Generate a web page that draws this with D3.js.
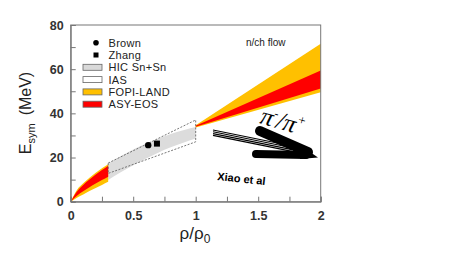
<!DOCTYPE html>
<html>

<head>
  <meta charset="utf-8">
  <title>Esym vs density</title>
  <script type="text/javascript" src="https://cdn.jsdelivr.net/npm/d3@7"></script>
  <style type="text/css">
    body { margin: 0; background: #fff; }
    text { font-family: "Liberation Sans", Arial, sans-serif; }
  </style>
</head>

<body>
  <script type="text/javascript">

    // Low density bands (0 - 0.3)
    const lowRho = [0, 0.05, 0.1, 0.15, 0.2, 0.25, 0.3];
    const fopiLowHi = [0, 5.3, 8.3, 10.8, 13.1, 15.1, 17.0];
    const fopiLowLo = [0, 1.8, 3.3, 4.8, 6.2, 7.6, 9.0];
    const asyLowHi = [0, 4.6, 7.6, 10.0, 12.3, 14.3, 16.3];
    const asyLowLo = [0, 2.7, 4.7, 6.5, 8.2, 9.8, 11.3];

    // High density bands (1 - 2)
    const highRho = [1, 2];
    const fopiHighHi = [34.6, 71.5];
    const fopiHighLo = [33.6, 49.6];
    const asyHighHi = [34.4, 59.4];
    const asyHighLo = [33.9, 51.2];

    // HIC Sn+Sn band
    const hicRho = [0.3, 0.4, 0.5, 0.6, 0.7, 0.8, 0.9, 1.0];
    const hicHi = [17.4, 20.6, 23.6, 26.2, 28.5, 30.6, 32.3, 33.8];
    const hicLo = [9.8, 13.3, 16.5, 19.5, 22.2, 24.6, 26.7, 28.6];

    // IAS box corners
    const iasRho = [0.3, 1.0, 1.0, 0.3];
    const iasE = [17.5, 37.0, 27.1, 12.8];

    // points
    const brown = { rho: 0.62, e: 25.6 };
    const zhang = { rho: 0.69, e: 26.3 };

    const xTicks = [0, 0.25, 0.5, 0.75, 1, 1.25, 1.5, 1.75, 2];
    const yTicks = [0, 10, 20, 30, 40, 50, 60, 70, 80];

    const legendItems = [
      { name: "Brown", kind: "circle" },
      { name: "Zhang", kind: "square" },
      { name: "HIC Sn+Sn", kind: "rect", fill: "#d9d9d9" },
      { name: "IAS", kind: "rect", fill: "#fff" },
      { name: "FOPI-LAND", kind: "rect", fill: "#ffc000" },
      { name: "ASY-EOS", kind: "rect", fill: "#ff0000" }
    ];

    const w = 471;
    const h = 275;

    const x = d3.scaleLinear().domain([0, 2]).range([70.7, 320.7]);
    const y = d3.scaleLinear().domain([0, 80]).range([201.7, 25]);

    const svg = d3.select("body")
      .append("svg")
      .attr("width", w)
      .attr("height", h);

    function band(rho, hi, lo, color) {
      const area = d3.area()
        .x(function (d, i) { return x(rho[i]); })
        .y0(function (d, i) { return y(lo[i]); })
        .y1(function (d, i) { return y(hi[i]); })
        .curve(d3.curveMonotoneX);
      svg.append("path")
        .attr("d", area(rho))
        .attr("fill", color);
    }

    // bands
    band(hicRho, hicHi, hicLo, "#dcdcdc");
    band(lowRho, fopiLowHi, fopiLowLo, "#ffc000");
    band(lowRho, asyLowHi, asyLowLo, "#ff0000");
    band(highRho, fopiHighHi, fopiHighLo, "#ffc000");
    band(highRho, asyHighHi, asyHighLo, "#ff0000");

    // IAS dashed box
    svg.append("path")
      .attr("d", d3.line()
        .x(function (d, i) { return x(iasRho[i]); })
        .y(function (d, i) { return y(iasE[i]); })(iasRho) + "Z")
      .attr("fill", "none")
      .attr("stroke", "#555")
      .attr("stroke-width", 0.8)
      .attr("stroke-dasharray", "2,1.5");

    // points
    svg.append("circle")
      .attr("cx", x(brown.rho))
      .attr("cy", y(brown.e))
      .attr("r", 3.2)
      .attr("fill", "#000");
    svg.append("rect")
      .attr("x", x(zhang.rho) - 3)
      .attr("y", y(zhang.e) - 3)
      .attr("width", 6)
      .attr("height", 6)
      .attr("fill", "#000");

    // frame
    svg.append("rect")
      .attr("x", x(0))
      .attr("y", y(80))
      .attr("width", x(2) - x(0))
      .attr("height", y(0) - y(80))
      .attr("fill", "none")
      .attr("stroke", "#777")
      .attr("stroke-width", 1);

    // axes with inward ticks
    const xAxis = d3.axisBottom(x)
      .tickValues(xTicks)
      .tickSize(-5)
      .tickFormat(function (d) { return (d * 2) % 1 === 0 ? d3.format("")(d) : ""; });
    const gx = svg.append("g")
      .attr("transform", "translate(0," + y(0) + ")")
      .call(xAxis);

    const yAxis = d3.axisLeft(y)
      .tickValues(yTicks)
      .tickSize(-5)
      .tickFormat(function (d) { return d % 20 === 0 ? d : ""; });
    const gy = svg.append("g")
      .attr("transform", "translate(" + x(0) + ",0)")
      .call(yAxis);

    [gx, gy].forEach(function (g) {
      g.select(".domain").attr("stroke", "#777");
      g.selectAll(".tick line").attr("stroke", "#777");
      g.selectAll(".tick text")
        .attr("fill", "#333")
        .style("font-size", "12.5px")
        .style("font-weight", "bold");
    });
    gx.selectAll(".tick text").attr("y", 9);
    gy.selectAll(".tick text").attr("x", -7);

    // axis titles
    svg.append("text")
      .attr("x", 195)
      .attr("y", 239)
      .attr("text-anchor", "middle")
      .style("font-size", "17px")
      .attr("fill", "#222")
      .html('ρ/ρ<tspan dy="4" font-size="12px">0</tspan>');

    svg.append("text")
      .attr("transform", "translate(31,113) rotate(-90)")
      .attr("text-anchor", "middle")
      .style("font-size", "16px")
      .attr("fill", "#222")
      .html('E<tspan dy="4" font-size="11px">sym</tspan><tspan dy="-4" dx="8">(MeV)</tspan>');

    // legend
    const legend = svg.append("g");
    legendItems.forEach(function (d, i) {
      const cy = 42.7 + i * 12.3;
      if (d.kind === "circle") {
        legend.append("circle").attr("cx", 96).attr("cy", cy).attr("r", 2.8).attr("fill", "#000");
      } else if (d.kind === "square") {
        legend.append("rect").attr("x", 93.5).attr("y", cy - 2.5).attr("width", 5).attr("height", 5).attr("fill", "#000");
      } else {
        legend.append("rect")
          .attr("x", 83).attr("y", cy - 3)
          .attr("width", 19).attr("height", 6)
          .attr("fill", d.fill)
          .attr("stroke", "#666")
          .attr("stroke-width", 0.8);
      }
      legend.append("text")
        .attr("x", 108.5)
        .attr("y", cy + 4)
        .style("font-size", "11px")
        .style("letter-spacing", "0.3px")
        .attr("fill", "#222")
        .text(d.name);
    });

    // annotations
    svg.append("text")
      .attr("x", 246)
      .attr("y", 46)
      .style("font-size", "10px")
      .attr("fill", "#222")
      .text("n/ch flow");

    // pi-/pi+ arrow: striped shaft
    const shaft = svg.append("g");
    [-3, -1.2, 0.6, 2.4].forEach(function (o) {
      shaft.append("line")
        .attr("x1", 213).attr("y1", 133 + o)
        .attr("x2", 292).attr("y2", 149 + o)
        .attr("stroke", "#000")
        .attr("stroke-width", 1.1);
    });
    // arrow head arms
    svg.append("line")
      .attr("x1", 260).attr("y1", 131)
      .attr("x2", 308).attr("y2", 152)
      .attr("stroke", "#000").attr("stroke-width", 10)
      .attr("stroke-linecap", "round");
    svg.append("line")
      .attr("x1", 256).attr("y1", 154)
      .attr("x2", 306).attr("y2", 155)
      .attr("stroke", "#000").attr("stroke-width", 8)
      .attr("stroke-linecap", "round");
    svg.append("path")
      .attr("d", "M300,145 L318,157.5 L300,159 Z")
      .attr("fill", "#000");

    svg.append("text")
      .attr("transform", "translate(259,123) rotate(16)")
      .style("font-family", "'Liberation Serif', serif")
      .style("font-size", "25px")
      .style("font-style", "italic")
      .attr("fill", "#000")
      .html('π<tspan dy="-10" font-size="12px">-</tspan><tspan dy="10">/π</tspan><tspan dy="-10" font-size="13px">+</tspan>');

    svg.append("text")
      .attr("transform", "translate(217,180) rotate(6)")
      .style("font-size", "11px")
      .style("font-weight", "bold")
      .attr("fill", "#000")
      .text("Xiao et al");

  </script>
</body>

</html>
